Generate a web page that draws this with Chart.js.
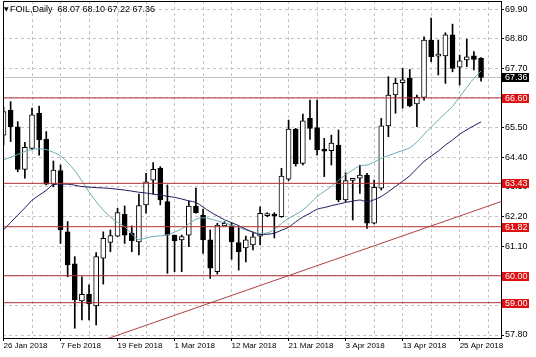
<!DOCTYPE html>
<html><head><meta charset="utf-8">
<script src="https://cdn.jsdelivr.net/npm/chart.js@4"></script>
<style>html,body{margin:0;padding:0;background:#fff}canvas{display:block}</style>
</head><body>
<canvas id="c" width="536" height="357"></canvas>
<script>
const opens  = [65.22,66.15,65.53,63.95,64.73,66.03,65.06,63.40,63.90,61.63,60.44,59.07,59.31,58.88,60.65,61.24,61.47,62.28,61.58,61.26,62.63,63.55,63.99,62.75,61.51,61.33,61.51,62.59,62.25,61.33,60.15,61.85,61.85,61.23,61.03,61.14,61.47,62.23,62.22,62.19,63.58,65.44,64.17,65.84,65.50,64.67,64.64,64.85,62.81,63.54,63.62,63.74,61.95,63.25,65.56,66.71,67.17,67.33,66.38,66.62,68.75,68.15,68.16,68.94,67.74,68.01,68.16,68.07];
const highs  = [66.27,66.46,65.72,64.95,66.22,66.30,65.35,64.26,64.11,62.01,60.71,59.96,59.66,60.86,61.63,61.70,62.50,62.59,61.85,63.03,63.80,64.20,64.05,63.37,61.51,61.51,62.77,63.25,62.47,61.70,61.95,62.01,61.97,61.82,61.47,61.62,62.56,62.34,62.34,63.99,65.78,65.47,66.00,66.52,66.52,65.10,65.22,65.41,63.82,63.62,64.11,63.80,63.55,65.84,67.39,67.33,67.70,67.66,66.71,68.87,69.56,68.75,69.02,69.34,68.19,68.78,68.32,68.10];
const lows   = [64.85,64.98,63.86,63.62,64.67,64.48,63.37,63.30,61.20,59.96,58.05,58.36,58.36,58.17,59.69,60.89,61.45,61.20,60.89,60.77,62.32,63.03,62.63,60.09,60.15,60.15,61.08,62.32,60.83,59.90,60.06,61.85,60.61,60.21,60.51,60.96,61.14,62.19,61.40,62.17,63.53,64.07,64.11,65.06,64.48,63.68,64.11,62.75,62.75,62.07,63.06,61.76,61.92,63.18,65.16,66.03,66.22,66.27,65.53,66.52,67.95,67.45,67.14,67.57,67.08,67.76,67.64,67.22];
const closes = [66.09,65.53,63.95,64.77,65.97,65.04,63.40,63.92,61.70,60.40,59.10,59.31,58.95,60.71,61.39,61.49,62.34,61.51,61.30,62.60,63.49,63.95,62.81,61.51,61.30,61.45,62.59,62.34,61.33,60.28,61.88,61.95,61.26,60.89,61.33,61.44,62.32,62.25,62.21,63.70,65.44,64.15,65.75,65.47,64.67,64.62,64.92,62.81,63.53,63.56,63.74,61.95,63.28,65.56,66.71,67.14,67.27,66.30,66.62,68.75,68.13,68.16,68.94,67.70,67.98,68.13,68.03,67.36];
const maFast = [64.30,64.40,64.50,64.61,64.69,64.71,64.68,64.58,64.45,64.20,63.90,63.52,63.11,62.75,62.44,62.18,61.98,61.82,61.55,61.34,61.40,61.46,61.48,61.52,61.62,61.74,61.92,62.10,62.15,62.11,62.04,61.96,61.88,61.80,61.70,61.61,61.57,61.59,61.72,61.94,62.13,62.28,62.44,62.68,62.94,63.13,63.32,63.54,63.75,63.92,64.08,64.11,64.22,64.36,64.46,64.56,64.65,64.75,64.96,65.25,65.51,65.78,66.03,66.29,66.64,66.99,67.33,67.60];
const maSlow = [61.70,61.98,62.25,62.52,62.80,62.99,63.17,63.38,63.40,63.40,63.36,63.31,63.29,63.27,63.26,63.24,63.21,63.18,63.14,63.10,63.07,63.03,62.99,62.95,62.91,62.85,62.78,62.72,62.55,62.37,62.22,62.08,61.97,61.86,61.73,61.62,61.53,61.54,61.58,61.69,61.80,62.00,62.18,62.32,62.47,62.53,62.60,62.66,62.72,62.77,62.81,62.75,62.82,62.94,63.12,63.31,63.51,63.71,63.98,64.24,64.44,64.63,64.85,65.04,65.25,65.42,65.57,65.71];
const dateLabels = ['26 Jan 2018','7 Feb 2018','19 Feb 2018','1 Mar 2018','12 Mar 2018','21 Mar 2018','3 Apr 2018','13 Apr 2018','25 Apr 2018'];
const dateIdx = [0,8,16,24,32,40,48,56,64];
const gridIdx = [0,4,8,12,16,20,24,28,32,36,40,44,48,52,56,60,64,68];
const priceTicks = [57.80,58.90,60.00,61.10,62.20,63.30,64.40,65.50,66.60,67.70,68.80,69.90];
const levels = [66.60,63.43,61.82,60.00,59.00];
const bidPrice = 67.36;
const trendIdx = [10,70];
const trendVal = [57.24,62.77];
const titleText = 'FOIL,Daily  68.07 68.10 67.22 67.36';

const idx = opens.map((_, i) => i);
const wicks = idx.map(i => ({x: i, y: [lows[i], highs[i]]}));
const bodies = idx.map(i => ({x: i, y: [Math.min(opens[i], closes[i]), Math.max(opens[i], closes[i])]}));
const bodyColors = idx.map(i => closes[i] >= opens[i] ? '#ffffff' : '#000000');
const hline = v => [{x: -2, y: v}, {x: 72, y: v}];
const FONT = '"Liberation Sans", Arial, sans-serif';

const overlay = {
  id: 'overlay',
  afterDraw(chart) {
    const {ctx, chartArea: a, scales: {y}} = chart;
    ctx.save();
    ctx.strokeStyle = '#000'; ctx.lineWidth = 1;
    ctx.beginPath();
    ctx.moveTo(a.left + 0.5, a.bottom); ctx.lineTo(a.left + 0.5, a.top + 0.5); ctx.lineTo(a.right + 1, a.top + 0.5);
    ctx.stroke();
    ctx.font = '9px ' + FONT;
    ctx.textBaseline = 'middle'; ctx.textAlign = 'left';
    const box = (v, bg) => {
      const py = Math.round(y.getPixelForValue(v));
      ctx.fillStyle = bg; ctx.fillRect(a.right + 1, py - 4, 27, 9);
      ctx.fillStyle = '#fff'; ctx.fillText(v.toFixed(2), a.right + 4, py + 0.5);
    };
    levels.forEach(v => box(v, '#dd1111'));
    box(bidPrice, '#000000');
    ctx.fillStyle = '#000';
    ctx.font = '6px "DejaVu Sans", sans-serif';
    ctx.fillText('\u25BC', 4, 9.5);
    ctx.font = '9px ' + FONT;
    ctx.fillText(titleText, 10, 9.5);
    ctx.restore();
  }
};

new Chart(document.getElementById('c'), {
  type: 'bar',
  data: {
    datasets: [
      {type: 'line', data: hline(bidPrice), borderColor: '#c0c0c0', borderWidth: 1, pointRadius: 0, order: 9},
      {type: 'bar', data: wicks, backgroundColor: '#000', barThickness: 1, grouped: false, order: 8},
      {type: 'bar', data: bodies, backgroundColor: bodyColors, borderColor: '#000', borderWidth: 1, borderSkipped: false, barThickness: 5, minBarLength: 2, grouped: false, order: 7},
      {type: 'line', data: idx.map(i => ({x: i, y: maFast[i]})), borderColor: '#6aaab5', borderWidth: 1, pointRadius: 0, cubicInterpolationMode: 'monotone', order: 6},
      {type: 'line', data: idx.map(i => ({x: i, y: maSlow[i]})), borderColor: '#1c1c5c', borderWidth: 1, pointRadius: 0, cubicInterpolationMode: 'monotone', order: 5},
      ...levels.map(v => ({type: 'line', data: hline(v), borderColor: '#b03030', borderWidth: 1, pointRadius: 0, order: 4})),
      {type: 'line', data: trendIdx.map((x, k) => ({x, y: trendVal[k]})), borderColor: '#b04040', borderWidth: 1, pointRadius: 0, order: 4}
    ]
  },
  options: {
    responsive: false,
    animation: false,
    devicePixelRatio: 1,
    layout: {padding: {left: 3, top: 1, right: 0, bottom: 0}},
    plugins: {legend: {display: false}, tooltip: {enabled: false}},
    scales: {
      x: {
        type: 'linear', min: -0.07, max: 69.8, offset: false,
        grid: {offset: false, color: '#c4c4c4', lineWidth: 1, tickLength: 3, tickBorderDash: [],
               tickColor: c => (c.tick && dateIdx.includes(c.tick.value)) ? '#000' : 'rgba(0,0,0,0)'},
        border: {display: true, color: '#000', dash: [3, 3]},
        ticks: {align: 'start', padding: 0, maxRotation: 0, minRotation: 0, autoSkip: false, color: '#000',
                font: {family: FONT, size: 8},
                callback: v => { const k = dateIdx.indexOf(v); return k >= 0 ? dateLabels[k] : ''; }},
        afterBuildTicks: s => { s.ticks = gridIdx.map(v => ({value: v})); },
        afterFit: s => { s.height = 19; s.paddingLeft = 0; s.paddingRight = 0; }
      },
      y: {
        type: 'linear', position: 'right', min: 57.689, max: 70.198,
        grid: {color: '#c4c4c4', lineWidth: 1, tickLength: 3, tickColor: '#000', tickBorderDash: []},
        border: {display: true, color: '#000', dash: [3, 3]},
        ticks: {padding: 1, color: '#000', font: {family: FONT, size: 9}, callback: v => Number(v).toFixed(2)},
        afterBuildTicks: s => { s.ticks = priceTicks.map(v => ({value: v})); },
        afterFit: s => { s.width = 35; s.paddingTop = 0; s.paddingBottom = 0; }
      }
    }
  },
  plugins: [overlay]
});
</script>
</body></html>
